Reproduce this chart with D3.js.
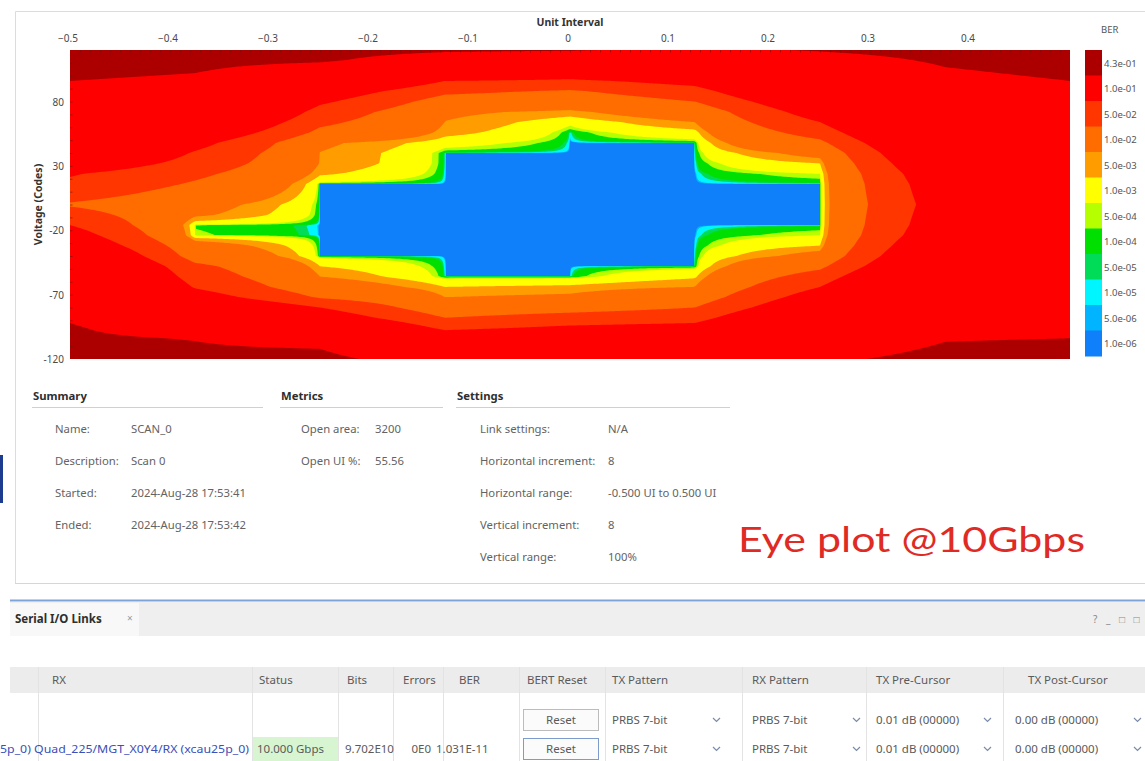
<!DOCTYPE html>
<html>
<head>
<meta charset="utf-8">
<script src="https://cdn.jsdelivr.net/npm/d3@7"></script>
<style>
  body { margin: 0; background: #ffffff; }
  svg { display: block; font-family: "Noto Sans", "Open Sans", sans-serif; }
</style>
</head>
<body>
<svg id="chart" width="1145" height="761"></svg>
<script>
// ---- Eye scan data -------------------------------------------------------
// Horizontal sample positions (unit interval) and vertical offsets (codes)
const uiColumns = [-0.5, -0.375, -0.25, -0.125, 0, 0.125, 0.25, 0.375, 0.5];
const voltageRows = [120, 112, 104, 96, 88, 80, 72, 64, 56, 48, 40, 32, 24, 16, 8, 0,
                     -8, -16, -24, -32, -40, -48, -56, -64, -72, -80, -88, -96, -104, -112, -120];

// Measured BER per UI column, listed from +120 codes down to -120 codes
const berByColumn = [
  [.50,.49,.47,.43,.40,.37,.33,.30,.27,.24,.20,.15,.105,.09,.07,.045,.07,.10,.13,.16,.20,.23,.26,.29,.33,.36,.41,.45,.47,.49,.50],
  [.50,.47,.44,.40,.35,.30,.25,.20,.16,.12,.095,.08,.06,.045,.03,.016,.012,.00045,.0006,.018,.03,.06,.075,.095,.13,.18,.24,.30,.42,.46,.49],
  [.48,.45,.35,.20,.14,.11,.08,.06,.04,.012,.0098,.0095,.006,1e-7,1e-7,1e-7,1e-7,1e-7,1e-7,1e-7,1e-7,.005,.01,.02,.045,.10,.14,.20,.30,.43,.48],
  [.45,.35,.20,.10,.06,.03,.012,.0098,.007,.002,1e-7,1e-7,1e-7,1e-7,1e-7,1e-7,1e-7,1e-7,1e-7,1e-7,1e-7,1e-7,1e-7,.005,.01,.02,.05,.09,.14,.22,.32],
  [.44,.30,.15,.09,.045,.02,.008,.0015,2e-5,1e-7,1e-7,1e-7,1e-7,1e-7,1e-7,1e-7,1e-7,1e-7,1e-7,1e-7,1e-7,1e-7,1e-7,.006,.012,.03,.07,.11,.16,.22,.30],
  [.40,.30,.20,.12,.08,.05,.02,.01,.003,1e-7,1e-7,1e-7,1e-7,1e-7,1e-7,1e-7,1e-7,1e-7,1e-7,1e-7,1e-7,1e-7,.004,.01,.025,.05,.08,.12,.18,.25,.35],
  [.44,.37,.30,.25,.20,.16,.13,.10,.07,.04,.015,.005,.001,1e-7,1e-7,1e-7,1e-7,1e-7,.001,.005,.015,.04,.07,.10,.13,.16,.20,.25,.30,.35,.40],
  [.48,.45,.42,.39,.36,.33,.30,.27,.24,.21,.19,.17,.15,.14,.135,.13,.135,.14,.15,.17,.19,.21,.24,.27,.30,.33,.36,.39,.42,.45,.48],
  [.50,.48,.46,.43,.40,.37,.34,.31,.28,.26,.24,.22,.21,.20,.195,.19,.195,.20,.21,.22,.24,.26,.28,.31,.34,.37,.40,.41,.43,.47,.50]
];

// Colour scale: thresholds (ascending) and legend entries (top to bottom)
const berThresholds = [5e-6, 1e-5, 5e-5, 1e-4, 5e-4, 1e-3, 5e-3, 1e-2, 5e-2, 1e-1, 4.3e-1];
const legendLabels = ["4.3e-01","1.0e-01","5.0e-02","1.0e-02","5.0e-03","1.0e-03",
                      "5.0e-04","1.0e-04","5.0e-05","1.0e-05","5.0e-06","1.0e-06"];
const legendColors = ["#ac0000","#ff0000","#ff3600","#ff6c00","#ff9c00","#ffff00",
                      "#b6ff00","#00e000","#00dc58","#00f6ff","#00b4ff","#0f80fa"];

const uiTicks = [-0.5, -0.4, -0.3, -0.2, -0.1, 0, 0.1, 0.2, 0.3, 0.4];
const voltageTicks = [80, 30, -20, -70, -120];

// ---- Summary / settings text -------------------------------------------
const summaryRows = [["Name:", "SCAN_0"], ["Description:", "Scan 0"],
                     ["Started:", "2024-Aug-28 17:53:41"], ["Ended:", "2024-Aug-28 17:53:42"]];
const metricRows = [["Open area:", "3200"], ["Open UI %:", "55.56"]];
const settingRows = [["Link settings:", "N/A"], ["Horizontal increment:", "8"],
                     ["Horizontal range:", "-0.500 UI to 0.500 UI"], ["Vertical increment:", "8"],
                     ["Vertical range:", "100%"]];

// ---- Link table --------------------------------------------------------
const tableHeaders = [["RX", 52], ["Status", 259], ["Bits", 347], ["Errors", 403], ["BER", 459],
                      ["BERT Reset", 527], ["TX Pattern", 612], ["RX Pattern", 752],
                      ["TX Pre-Cursor", 876], ["TX Post-Cursor", 1028]];
const tableSeparators = [38, 252, 338, 393, 443, 519, 605, 742, 866, 1003];
const linkRow = {rx: "5p_0) Quad_225/MGT_X0Y4/RX (xcau25p_0)", status: "10.000 Gbps",
                 bits: "9.702E10", errors: "0E0", ber: "1.031E-11"};
const patternCells = [["PRBS 7-bit", 612, 713], ["PRBS 7-bit", 752, 853],
                      ["0.01 dB (00000)", 876, 984], ["0.00 dB (00000)", 1015, 1134]];

// ---- Drawing -------------------------------------------------------------
const svg = d3.select("#chart");
const plot = {left: 70, right: 1070, top: 50, bottom: 359};
const x = d3.scaleLinear().domain([-0.5, 0.5]).range([plot.left, plot.right]);
const y = d3.scaleLinear().domain([-120, 120]).range([plot.bottom, plot.top]);

// panel frame
svg.append("path")
  .attr("d", "M15.5,583.5 V11.5 H1145")
  .attr("fill", "none").attr("stroke", "#dcdcdc");
svg.append("line").attr("x1", 15).attr("x2", 1145).attr("y1", 583.5).attr("y2", 583.5)
  .attr("stroke", "#d6d6d6");
svg.append("rect").attr("x", 0).attr("y", 455).attr("width", 3).attr("height", 48).attr("fill", "#1d3c8f");

// Bilinear BER surface between scan points, sampled on a fine raster for contouring
const nCols = uiColumns.length, nRows = voltageRows.length;
const colPos = d3.scaleLinear().domain([uiColumns[0], uiColumns[nCols - 1]]).range([0, nCols - 1]).clamp(true);
const rowPos = d3.scaleLinear().domain([voltageRows[0], voltageRows[nRows - 1]]).range([0, nRows - 1]).clamp(true);
function berAt(ui, v) {
  const fc = colPos(ui), fr = rowPos(v);
  const c0 = Math.min(nCols - 2, Math.floor(fc)), r0 = Math.min(nRows - 2, Math.floor(fr));
  const u = fc - c0, w = fr - r0, g = berByColumn;
  return (1 - u) * (1 - w) * g[c0][r0] + u * (1 - w) * g[c0 + 1][r0]
       + (1 - u) * w * g[c0][r0 + 1] + u * w * g[c0 + 1][r0 + 1];
}
const nx = 501, ny = 310;
const rasterUI = d3.scaleLinear().domain([0, nx - 1]).range(x.domain());
const rasterV = d3.scaleLinear().domain([0, ny - 1]).range([120, -120]);
const raster = new Float64Array(nx * ny);
for (let j = 0; j < ny; j++)
  for (let i = 0; i < nx; i++) raster[j * nx + i] = berAt(rasterUI(i), rasterV(j));

const surfacePath = d3.geoPath(d3.geoTransform({
  point(px, py) { this.stream.point(x(rasterUI(px - 0.5)), y(rasterV(py - 0.5))); }
}));
const bands = d3.contours().size([nx, ny]).thresholds(berThresholds)(raster);

svg.append("clipPath").attr("id", "plotClip")
  .append("rect").attr("x", plot.left).attr("y", plot.top)
  .attr("width", plot.right - plot.left).attr("height", plot.bottom - plot.top);

const plotG = svg.append("g").attr("clip-path", "url(#plotClip)");
plotG.append("rect").attr("x", plot.left).attr("y", plot.top)
  .attr("width", plot.right - plot.left).attr("height", plot.bottom - plot.top)
  .attr("fill", legendColors[legendColors.length - 1]);
plotG.selectAll("path.band").data(bands).join("path")
  .attr("class", "band")
  .attr("d", surfacePath)
  .attr("fill", (d, k) => legendColors[legendColors.length - 2 - k]);

// fine tick marks along the top and left edges of the plot
const edgeTicks = svg.append("g").attr("stroke", "#6b1010").attr("stroke-opacity", 0.55);
edgeTicks.selectAll("line.tx").data(d3.range(-0.49, 0.5, 0.01)).join("line")
  .attr("class", "tx")
  .attr("x1", d => x(d) + 0.5).attr("x2", d => x(d) + 0.5)
  .attr("y1", plot.top).attr("y2", plot.top + 2.5);
edgeTicks.selectAll("line.ty").data(d3.range(-110, 120, 10)).join("line")
  .attr("class", "ty")
  .attr("x1", plot.left).attr("x2", plot.left + 2.5)
  .attr("y1", d => y(d) + 0.5).attr("y2", d => y(d) + 0.5);

// top axis
const axisText = "#4a4a4a";
svg.append("g").selectAll("text").data(uiTicks).join("text")
  .attr("x", d => x(d) - 2).attr("y", 42)
  .attr("text-anchor", "middle").attr("font-size", 10).attr("fill", axisText)
  .text(d => d3.format("")(d));
svg.append("text").attr("x", x(0)).attr("y", 26).attr("text-anchor", "middle")
  .attr("font-size", 10.5).attr("font-weight", "bold").attr("fill", "#333").text("Unit Interval");

// left axis
svg.append("g").selectAll("text").data(voltageTicks).join("text")
  .attr("x", 64).attr("y", d => y(d) + 4)
  .attr("text-anchor", "end").attr("font-size", 10).attr("fill", axisText)
  .text(d => d);
svg.append("text").attr("transform", `translate(42,${y(0)}) rotate(-90)`)
  .attr("text-anchor", "middle").attr("font-size", 10.5).attr("font-weight", "bold")
  .attr("fill", "#333").text("Voltage (Codes)");

// legend
const swatchH = (plot.bottom - 3 - plot.top) / legendLabels.length;
const legend = svg.append("g");
legend.append("text").attr("x", 1101).attr("y", 33).attr("font-size", 9.5)
  .attr("fill", "#555").text("BER");
legend.selectAll("rect").data(legendColors).join("rect")
  .attr("x", 1085).attr("y", (d, i) => plot.top + i * swatchH)
  .attr("width", 17).attr("height", swatchH + 0.5).attr("fill", d => d);
legend.selectAll("text.lab").data(legendLabels).join("text")
  .attr("class", "lab")
  .attr("x", 1104).attr("y", (d, i) => plot.top + (i + 0.5) * swatchH + 4)
  .attr("font-size", 9.5).attr("fill", "#555").text(d => d);

// summary panels
function section(title, x0, x1, rows, labelX, valueX) {
  const g = svg.append("g").attr("font-size", 11.3).attr("fill", "#636363");
  g.append("text").attr("x", x0 + 1).attr("y", 400).attr("font-weight", "bold")
    .attr("fill", "#2e2e2e").text(title);
  g.append("line").attr("x1", x0).attr("x2", x1).attr("y1", 407.5).attr("y2", 407.5)
    .attr("stroke", "#d0d0d0");
  rows.forEach((r, i) => {
    g.append("text").attr("x", labelX).attr("y", 433 + i * 32).text(r[0]);
    g.append("text").attr("x", valueX).attr("y", 433 + i * 32).text(r[1]);
  });
}
section("Summary", 32, 263, summaryRows, 55, 131);
section("Metrics", 280, 443, metricRows, 301, 375);
section("Settings", 456, 730, settingRows, 480, 608);

svg.append("text").attr("x", 738).attr("y", 552)
  .attr("font-family", "Lato, 'Open Sans', sans-serif").attr("font-size", 34)
  .attr("textLength", 347).attr("lengthAdjust", "spacingAndGlyphs")
  .attr("fill", "#e02b25").text("Eye plot @10Gbps");

// link table panel
svg.append("line").attr("x1", 10).attr("x2", 1145).attr("y1", 600.5).attr("y2", 600.5)
  .attr("stroke", "#7ea3d6").attr("stroke-width", 2);
svg.append("rect").attr("x", 10).attr("y", 602).attr("width", 1135).attr("height", 34).attr("fill", "#efefef");
svg.append("rect").attr("x", 10).attr("y", 603).attr("width", 129).attr("height", 33).attr("fill", "#f8f8f8");
svg.append("text").attr("x", 15).attr("y", 623).attr("font-size", 11.5).attr("font-weight", "bold")
  .attr("fill", "#2e2e2e").text("Serial I/O Links");
svg.append("text").attr("x", 127).attr("y", 622).attr("font-size", 10).attr("fill", "#999").text("×");
svg.append("text").attr("x", 1093).attr("y", 623).attr("font-size", 10).attr("fill", "#888")
  .attr("letter-spacing", 3).text("? _ □ □");

svg.append("rect").attr("x", 10).attr("y", 667).attr("width", 1135).attr("height", 26).attr("fill", "#ececec");
const tg = svg.append("g").attr("font-size", 11.5).attr("fill", "#5a5a5a");
tableSeparators.forEach(sx => {
  tg.append("line").attr("x1", sx + 0.5).attr("x2", sx + 0.5).attr("y1", 667).attr("y2", 761)
    .attr("stroke", "#e3e3e3");
});
tableHeaders.forEach(h => tg.append("text").attr("x", h[1]).attr("y", 684).text(h[0]));

// button rows
[720, 749].forEach((ry, r) => {
  tg.append("rect").attr("x", 523.5).attr("y", ry - 10.5).attr("width", 75).attr("height", 21)
    .attr("fill", "#fbfbfb").attr("stroke", r ? "#7d9ccc" : "#bcbcbc");
  tg.append("text").attr("x", 561).attr("y", ry + 4).attr("text-anchor", "middle").text("Reset");
  patternCells.forEach(c => {
    tg.append("text").attr("x", c[1]).attr("y", ry + 4).text(c[0]);
    tg.append("path").attr("d", `M${c[2]},${ry - 2} l3.5,3.5 l3.5,-3.5`)
      .attr("fill", "none").attr("stroke", "#7a8aa8").attr("stroke-width", 1.2);
  });
});
tg.append("rect").attr("x", 253).attr("y", 737).attr("width", 85).attr("height", 24).attr("fill", "#d8f5d2");
tg.append("text").attr("x", 0).attr("y", 753).attr("fill", "#3b4fb8")
  .attr("textLength", 249).attr("lengthAdjust", "spacingAndGlyphs").text(linkRow.rx);
tg.append("text").attr("x", 257).attr("y", 753).text(linkRow.status);
tg.append("text").attr("x", 345).attr("y", 753).text(linkRow.bits);
tg.append("text").attr("x", 431).attr("y", 753).attr("text-anchor", "end").text(linkRow.errors);
tg.append("text").attr("x", 436).attr("y", 753).text(linkRow.ber);
</script>
</body>
</html>
